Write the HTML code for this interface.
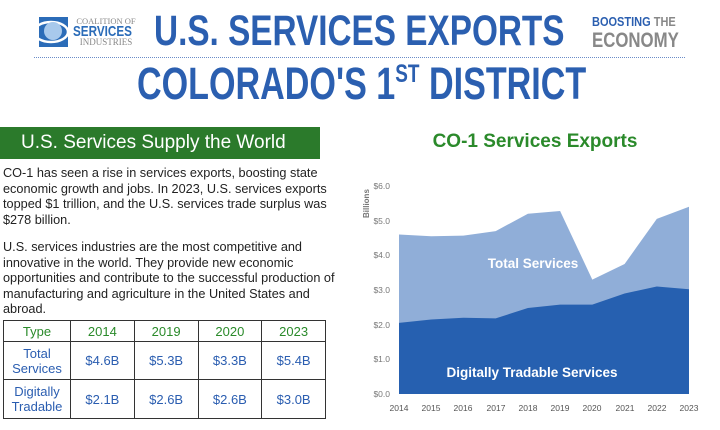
<!DOCTYPE html>
<html><head><style>
body{margin:0;width:720px;height:430px;background:#fff;position:relative;overflow:hidden;font-family:"Liberation Sans",sans-serif}
.abs{position:absolute}
p{margin:0}
table{border-collapse:collapse}
td{border:1.5px solid #333;text-align:center;color:#2a5db0;font-size:13px;line-height:15px;padding:0}
</style></head><body>
<!-- logo -->
<svg class="abs" style="left:32px;top:16px" width="42" height="32"><rect x="7" y="1" width="29" height="30" fill="#2b6cb8"/><ellipse cx="19" cy="16" rx="17" ry="10" fill="none" stroke="#fff" stroke-width="2.5"/><ellipse cx="21" cy="15" rx="9" ry="9" fill="#a8c9ec"/></svg>
<div class="abs" style="left:73px;top:17px;font-family:'Liberation Serif',serif;font-size:8.5px;color:#888;line-height:8px;width:66px;text-align:center">COALITION OF</div>
<div class="abs" style="left:73px;top:25px;font-size:15px;font-weight:bold;color:#2b6cb8;line-height:14px;white-space:nowrap;transform:scaleX(0.78);transform-origin:left top">SERVICES</div>
<div class="abs" style="left:73px;top:38px;font-family:'Liberation Serif',serif;font-size:9px;color:#888;line-height:9px;width:66px;text-align:center">INDUSTRIES</div>
<div class="abs" style="left:154px;top:10px;font-size:43px;font-weight:bold;color:#2b5fb0;line-height:43px;transform:scaleX(0.775);transform-origin:left top;white-space:nowrap">U.S. SERVICES EXPORTS</div>
<div class="abs" style="left:592px;top:16px;font-size:12.5px;line-height:12.5px;font-weight:bold;color:#2b5fb0;transform:scaleX(0.88);transform-origin:left top;white-space:nowrap">BOOSTING <span style="color:#888">THE</span></div>
<div class="abs" style="left:592px;top:30px;font-size:21px;line-height:21px;font-weight:bold;color:#888;transform:scaleX(0.8);transform-origin:left top;white-space:nowrap">ECONOMY</div>
<div class="abs" style="left:34px;top:57px;width:651px;border-top:1px dotted #6a8cc8"></div>
<div class="abs" style="left:137px;top:61px;font-size:45px;font-weight:bold;color:#2b5fb0;line-height:45px;transform:scaleX(0.758);transform-origin:left top;white-space:nowrap">COLORADO'S 1<span style="font-size:25px;position:relative;top:-17px">ST</span> DISTRICT</div>
<!-- green header -->
<div class="abs" style="left:0;top:127px;width:320px;height:32px;background:#2b7a2b;color:#fff;font-size:19px;line-height:32px;padding-left:21px;box-sizing:border-box">U.S. Services Supply the World</div>
<div class="abs" style="left:3px;top:166px;width:335px;font-size:12.7px;line-height:15.5px;color:#222">
<p>CO-1 has seen a rise in services exports, boosting state economic growth and jobs. In 2023, U.S. services exports topped $1 trillion, and the U.S. services trade surplus was $278 billion.</p>
<p style="margin-top:12px">U.S. services industries are the most competitive and innovative in the world. They provide new economic opportunities and contribute to the successful production of manufacturing and agriculture in the United States and abroad.</p>
</div>
<table class="abs" style="left:3px;top:320px;width:323px">
<tr style="height:21px"><td style="color:#2a8a2a;width:66px">Type</td><td style="color:#2a8a2a">2014</td><td style="color:#2a8a2a">2019</td><td style="color:#2a8a2a">2020</td><td style="color:#2a8a2a">2023</td></tr>
<tr style="height:38px"><td>Total<br>Services</td><td>$4.6B</td><td>$5.3B</td><td>$3.3B</td><td>$5.4B</td></tr>
<tr style="height:39px"><td>Digitally<br>Tradable</td><td>$2.1B</td><td>$2.6B</td><td>$2.6B</td><td>$3.0B</td></tr>
</table>
<!-- chart -->
<div class="abs" style="left:340px;top:131px;width:390px;text-align:center;font-size:19px;font-weight:bold;color:#2b8a2b">CO-1 Services Exports</div>
<svg class="abs" style="left:0;top:0" width="720" height="430">
<g font-family="Liberation Sans" font-size="8.5" fill="#777" text-anchor="end">
<text x="390" y="189">$6.0</text><text x="390" y="224">$5.0</text><text x="390" y="258">$4.0</text><text x="390" y="293">$3.0</text><text x="390" y="328">$2.0</text><text x="390" y="362">$1.0</text><text x="390" y="397">$0.0</text>
</g>
<text x="0" y="0" transform="translate(369,218) rotate(-90)" font-family="Liberation Sans" font-size="8" font-weight="bold" fill="#777">Billions</text>
<polygon fill="#90aed8" points="399,234.5 431.2,236.3 463.4,235.6 495.7,231.1 527.9,213.7 560.1,211 592.3,279.6 624.6,264 656.8,218.9 689,206.8 689,394 399,394"/>
<polygon fill="#2660b0" points="399,322.9 431.2,319.5 463.4,317.7 495.7,318.4 527.9,308 560.1,304.6 592.3,304.6 624.6,293.5 656.8,286.5 689,289.3 689,394 399,394"/>
<text x="533" y="268" text-anchor="middle" font-family="Liberation Sans" font-size="13.5" font-weight="bold" fill="#fff">Total Services</text>
<text x="532" y="377" text-anchor="middle" font-family="Liberation Sans" font-size="13.5" font-weight="bold" fill="#fff">Digitally Tradable Services</text>
<g font-family="Liberation Sans" font-size="8.5" fill="#555" text-anchor="middle">
<text x="399" y="411">2014</text><text x="431" y="411">2015</text><text x="463" y="411">2016</text><text x="496" y="411">2017</text><text x="528" y="411">2018</text><text x="560" y="411">2019</text><text x="592" y="411">2020</text><text x="625" y="411">2021</text><text x="657" y="411">2022</text><text x="689" y="411">2023</text>
</g>
</svg>
</body></html>
